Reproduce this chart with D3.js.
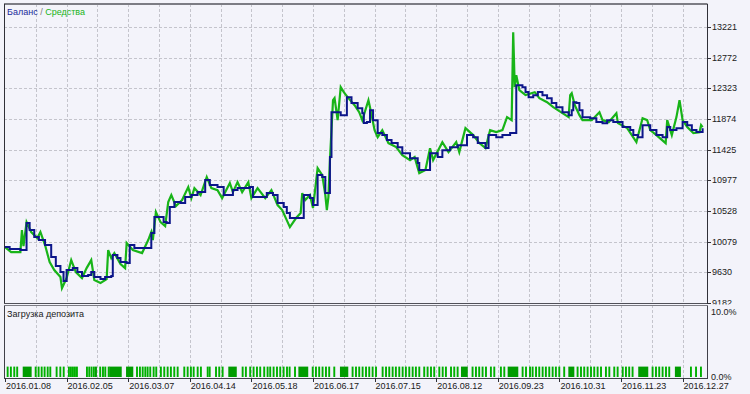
<!DOCTYPE html>
<html>
<head>
<meta charset="utf-8">
<script src="https://cdn.jsdelivr.net/npm/d3@7"></script>
<style>
  html, body { margin: 0; padding: 0; background: #f3f3fa; }
  svg { display: block; }
</style>
</head>
<body>
<div id="chart"></div>
<script>

// balance, by deal number
const balanceData = [
  [0,10001],[3,9971],[10,9957],[12,9957],[14,10352],[16,10249],[19,10147],[22,10103],[26,10030],
  [30,9854],[33,9723],[36,9635],[38,9503],[40,9664],[44,9694],[47,9635],[50,9577],[54,9591],
  [56,9635],[58,9562],[62,9533],[65,9562],[69,9577],[70,9884],[73,9840],[75,9781],[79,9767],
  [81,10030],[84,9986],[89,9986],[95,10205],[97,10439],[103,10366],[105,10352],[107,10586],
  [110,10659],[114,10644],[117,10732],[121,10761],[125,10805],[130,10981],[133,10907],[138,10878],
  [142,10761],[146,10761],[148,10834],[151,10864],[156,10864],[159,10878],[161,10732],[166,10732],
  [170,10790],[174,10761],[177,10644],[181,10586],[183,10498],[185,10425],[192,10425],[194,10761],
  [198,10717],[200,10615],[203,11054],[206,11025],[208,10790],[210,10790],[211,11317],[212,11975],
  [218,11931],[219,11931],[222,12194],[225,12107],[229,12033],[232,11960],[233,11815],[235,11829],
  [237,12004],[239,11858],[242,11668],[245,11639],[248,11566],[251,11522],[255,11463],[258,11375],
  [263,11302],[268,11229],[269,11127],[273,11127],[276,11375],[281,11317],[284,11419],[289,11463],
  [294,11492],[297,11492],[300,11639],[304,11609],[307,11522],[312,11449],[314,11639],[319,11609],
  [323,11639],[328,11668],[331,11668],[332,12370],[336,12341],[338,12268],[340,12194],[343,12224],
  [346,12268],[349,12224],[352,12180],[355,12107],[358,12048],[362,11975],[366,11931],[368,12004],
  [369,12121],[371,12107],[373,12004],[375,11902],[380,11887],[384,11829],[388,11814],[391,11858],
  [395,11829],[397,11829],[401,11756],[406,11712],[408,11639],[411,11609],[414,11785],[417,11785],
  [419,11712],[423,11639],[427,11609],[430,11756],[432,11712],[436,11741],[440,11829],[443,11785],
  [446,11712],[449,11683],[452,11683],[453,11741]
];

// equity, by deal number
const equityData = [
  [0,10001],[4,9927],[10,9927],[11,10249],[12,10015],[14,10366],[17,10220],[21,10132],[23,10220],
  [26,10030],[29,9781],[32,9664],[36,9562],[37,9401],[40,9547],[43,9810],[46,9635],[50,9547],
  [53,9693],[56,9810],[58,9518],[62,9474],[66,9533],[67,9957],[69,9840],[71,9913],[75,9752],
  [78,9693],[79,10059],[83,9957],[89,9913],[93,10103],[95,10220],[96,10103],[98,10512],[101,10366],
  [104,10308],[106,10659],[108,10761],[111,10600],[115,10688],[119,10878],[121,10717],[123,10863],
  [127,10761],[131,11024],[134,10863],[138,10834],[141,10717],[146,10937],[148,10805],[151,10951],
  [154,10805],[158,10951],[160,10717],[164,10863],[169,10717],[173,10834],[177,10615],[180,10542],
  [185,10293],[189,10425],[192,10498],[193,10790],[195,10688],[198,10761],[200,10571],[203,11156],
  [206,11054],[208,10761],[209,10542],[210,10732],[211,11273],[213,12150],[214,12180],[216,11858],
  [218,12341],[220,12267],[223,12180],[227,12077],[230,11975],[232,11858],[236,12150],[237,12048],
  [240,11712],[242,11609],[245,11712],[249,11522],[254,11463],[258,11346],[263,11273],[266,11317],
  [269,11083],[273,11127],[276,11448],[278,11273],[284,11536],[288,11390],[293,11536],[295,11390],
  [299,11741],[304,11639],[308,11522],[312,11448],[315,11712],[319,11682],[323,11712],[326,11902],
  [329,11858],[330,13145],[331,12341],[332,12516],[334,12297],[338,12224],[344,12267],[347,12180],
  [352,12121],[356,12048],[362,11960],[366,11902],[367,12224],[368,12253],[370,12077],[373,11931],
  [375,11858],[381,11858],[386,11975],[388,11858],[392,11829],[397,11960],[398,11814],[404,11741],
  [410,11536],[414,11887],[417,11858],[419,11712],[423,11639],[429,11522],[430,11858],[433,11639],
  [436,11902],[438,12150],[440,11858],[443,11756],[447,11668],[451,11682],[452,11785],[453,11756]
];

// deposit load: single deals and longer stretches (deal numbers)
const loadSingle = [
  1.1,3.2,5.4,7.3,19.3,21.2,23.2,25.1,27.1,28.8,32.9,35.3,37.5,40.9,42.2,43.5,44.8,46.1,52.6,54.1,
  55.6,57.1,61.2,63,64.5,66.7,85.1,87,88.8,90.5,92,93.7,95.9,97.6,100.6,102.8,105,107.1,109.3,111.5,
  115.8,118,120.1,121.9,124.5,126.6,131,132.3,136.4,138.5,140.7,153.7,155.8,158.6,160.8,163,165.1,
  167.7,169.9,171.6,173.8,176,178.1,180.3,182.5,184.2,187.7,199.2,201.3,203.4,205.6,207.8,209.9,
  213.2,225.1,227.3,229.4,231.6,233.8,235.9,238.1,240.3,244.6,246.8,248.9,251.1,253.2,255.4,257.6,
  259.7,261.9,264.1,266.2,268.4,271.6,273.8,276,278.1,281.4,283.6,285.7,289,291.1,293.3,303,305.2,
  307.3,309.5,311.7,314.9,317.1,321.4,323.6,335.5,337.7,340.3,342,344.2,346.3,348.5,350.6,352.8,
  355,357.1,359.3,362.5,371.2,373.4,375.5,377.7,379.9,382,384.2,386.4,389.6,391.8,395,397.2,400.5,
  402.6,404.7,406.9,419.9,422.1,424.2,426.4,428.6,430.7,444.8,448.1,451.3
];
const loadSpans = [
  [11.5,17.3],[58.4,59.7],[67.7,75.8],[78.6,83.3],[145,150.5],[190.5,196.9],[217.5,222.9],
  [296.1,300.5],[326.4,333.3],[365.8,369.7],[411.2,417.7],[435,438.9]
];
const loadPercent = 1.6;

const priceTicks = [9182, 9630, 10079, 10528, 10977, 11425, 11874, 12323, 12772, 13221];
const loadTicks = [0, 10];
const dateLabels = ["2016.01.08","2016.02.05","2016.03.07","2016.04.14","2016.05.18","2016.06.17",
                    "2016.07.15","2016.08.12","2016.09.23","2016.10.31","2016.11.23","2016.12.27"];
const dateDeals = [0, 40, 80, 120, 160, 200, 240, 280, 320, 360, 400, 440];
const gridDeals = d3.range(20, 441, 20);

const W = 750, H = 394;
const MAIN = { LEFT: 4, RIGHT: 707, TOP: 4, BOTTOM: 303 };
const SUB = { TOP: 305, BOTTOM: 378 };
const BG = "#f3f3fa";
const FONT = "Liberation Sans, Arial, sans-serif";

const svg = d3.select("#chart").append("svg")
    .attr("width", W)
    .attr("height", H);

svg.append("rect").attr("width", W).attr("height", H).attr("fill", BG);

const x = d3.scaleLinear().domain([0, 453]).range([5, 5 + 453 * 1.54]);
const y = d3.scaleLinear().domain([9182, 13221]).range([MAIN.BOTTOM, 27]);
const yLoad = d3.scaleLinear().domain([0, 10]).range([377, 312]);

// grid
const grid = svg.append("g")
    .attr("stroke", "#c4c4cc")
    .attr("stroke-width", 1)
    .attr("stroke-dasharray", "3,2");

grid.selectAll(".vmain").data(gridDeals).enter().append("line")
    .attr("x1", d => Math.round(x(d)) + 0.5).attr("x2", d => Math.round(x(d)) + 0.5)
    .attr("y1", MAIN.TOP).attr("y2", MAIN.BOTTOM);

grid.selectAll(".hmain").data(priceTicks.slice(1)).enter().append("line")
    .attr("x1", MAIN.LEFT).attr("x2", MAIN.RIGHT)
    .attr("y1", d => Math.round(y(d)) + 0.5).attr("y2", d => Math.round(y(d)) + 0.5);

// lines: balance changes in steps, equity floats between deals
svg.append("clipPath").attr("id", "clipMain").append("rect")
    .attr("x", MAIN.LEFT).attr("y", MAIN.TOP)
    .attr("width", MAIN.RIGHT - MAIN.LEFT).attr("height", MAIN.BOTTOM - MAIN.TOP);

const equityLine = d3.line()
    .x(d => x(d[0]))
    .y(d => y(d[1]));

const balanceLine = d3.line()
    .x(d => x(d[0]))
    .y(d => y(d[1]))
    .curve(d3.curveStepAfter);

svg.append("path")
    .datum(equityData)
    .attr("clip-path", "url(#clipMain)")
    .attr("d", equityLine)
    .attr("fill", "none")
    .attr("stroke", "#18b418")
    .attr("stroke-width", 2.2);

svg.append("path")
    .datum(balanceData)
    .attr("clip-path", "url(#clipMain)")
    .attr("d", balanceLine)
    .attr("fill", "none")
    .attr("stroke", "#0c168a")
    .attr("stroke-width", 2);

// main frame
svg.append("line").attr("x1", MAIN.LEFT).attr("x2", MAIN.RIGHT + 0.5)
    .attr("y1", MAIN.TOP).attr("y2", MAIN.TOP)
    .attr("stroke", "#7c7c84").attr("stroke-width", 2);
svg.append("line").attr("x1", MAIN.LEFT + 0.5).attr("x2", MAIN.LEFT + 0.5)
    .attr("y1", MAIN.TOP).attr("y2", MAIN.BOTTOM)
    .attr("stroke", "#303038").attr("stroke-width", 1);
svg.append("line").attr("x1", MAIN.RIGHT + 0.5).attr("x2", MAIN.RIGHT + 0.5)
    .attr("y1", MAIN.TOP).attr("y2", MAIN.BOTTOM)
    .attr("stroke", "#303038").attr("stroke-width", 1);
svg.append("line").attr("x1", MAIN.LEFT).attr("x2", MAIN.RIGHT + 1)
    .attr("y1", MAIN.BOTTOM + 0.5).attr("y2", MAIN.BOTTOM + 0.5)
    .attr("stroke", "#505058").attr("stroke-width", 1);

// right axis
const axis = svg.append("g");
axis.selectAll(".tick").data(priceTicks).enter().append("line")
    .attr("x1", MAIN.RIGHT).attr("x2", MAIN.RIGHT + 4)
    .attr("y1", d => Math.round(y(d)) + 0.5).attr("y2", d => Math.round(y(d)) + 0.5)
    .attr("stroke", "#303038");
axis.selectAll(".lbl").data(priceTicks).enter().append("text")
    .attr("x", MAIN.RIGHT + 5)
    .attr("y", d => y(d) + 3)
    .attr("font-family", FONT).attr("font-size", "9px").attr("fill", "#202020")
    .text(d => d);

// title
const title = svg.append("text")
    .attr("x", 7).attr("y", 15)
    .attr("font-family", FONT).attr("font-size", "9px");
title.append("tspan").attr("fill", "#1a2a9a").text("Баланс");
title.append("tspan").attr("fill", "#7a7a7a").text(" / ");
title.append("tspan").attr("fill", "#18b418").text("Средства");

// deposit load panel (covers the lower half of the 9182 label)
svg.append("rect")
    .attr("x", 0).attr("y", MAIN.BOTTOM + 1.5)
    .attr("width", W).attr("height", SUB.BOTTOM - MAIN.BOTTOM)
    .attr("fill", BG);

const subGrid = svg.append("g")
    .attr("stroke", "#c4c4cc").attr("stroke-width", 1).attr("stroke-dasharray", "3,2");
subGrid.selectAll("line").data(gridDeals).enter().append("line")
    .attr("x1", d => Math.round(x(d)) + 0.5).attr("x2", d => Math.round(x(d)) + 0.5)
    .attr("y1", SUB.TOP).attr("y2", SUB.BOTTOM);

const bars = svg.append("g").attr("fill", "#00b000");
bars.selectAll(".single").data(loadSingle).enter().append("rect")
    .attr("x", d => x(d))
    .attr("y", yLoad(loadPercent))
    .attr("width", 1.9)
    .attr("height", yLoad(0) - yLoad(loadPercent));
bars.selectAll(".span").data(loadSpans).enter().append("rect")
    .attr("x", d => x(d[0]))
    .attr("y", yLoad(loadPercent))
    .attr("width", d => x(d[1]) - x(d[0]))
    .attr("height", yLoad(0) - yLoad(loadPercent))
    .attr("fill", "#009c00");

svg.append("rect")
    .attr("x", MAIN.LEFT + 0.5).attr("y", SUB.TOP + 0.5)
    .attr("width", MAIN.RIGHT - MAIN.LEFT).attr("height", SUB.BOTTOM - SUB.TOP)
    .attr("fill", "none").attr("stroke", "#404048").attr("stroke-width", 1);
svg.append("line").attr("x1", MAIN.LEFT).attr("x2", MAIN.RIGHT + 1)
    .attr("y1", SUB.TOP + 0.5).attr("y2", SUB.TOP + 0.5)
    .attr("stroke", "#7c7c84").attr("stroke-width", 1);

svg.append("text")
    .attr("x", 7).attr("y", 317)
    .attr("font-family", FONT).attr("font-size", "9px").attr("fill", "#202020")
    .text("Загрузка депозита");

svg.selectAll(".loadlbl").data(loadTicks).enter().append("text")
    .attr("x", MAIN.RIGHT + 4)
    .attr("y", d => yLoad(d) + 3)
    .attr("font-family", FONT).attr("font-size", "9px").attr("fill", "#202020")
    .text(d => d.toFixed(1) + "%");

// date axis
svg.selectAll(".dtick").data(dateDeals).enter().append("line")
    .attr("x1", d => Math.round(x(d)) + 0.5).attr("x2", d => Math.round(x(d)) + 0.5)
    .attr("y1", SUB.BOTTOM).attr("y2", SUB.BOTTOM + 4)
    .attr("stroke", "#303038");
svg.selectAll(".dlbl").data(dateDeals).enter().append("text")
    .attr("x", d => x(d) + 1)
    .attr("y", 389)
    .attr("font-family", FONT).attr("font-size", "9px").attr("fill", "#202020")
    .text((d, i) => dateLabels[i]);

</script>
</body>
</html>
